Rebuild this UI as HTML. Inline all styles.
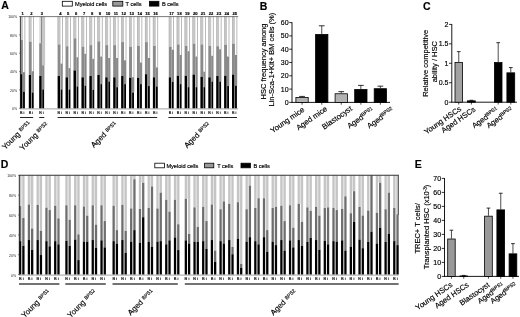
<!DOCTYPE html>
<html><head><meta charset="utf-8"><title>Figure</title>
<style>
html,body{margin:0;padding:0;background:#fff;}
body{width:520px;height:317px;overflow:hidden;font-family:"Liberation Sans",sans-serif;}
svg{display:block;filter:blur(0.35px);font-family:"Liberation Sans",sans-serif;}
text{stroke:#000;stroke-width:0.16px;}
</style></head><body>
<svg width="520" height="317" viewBox="0 0 520 317">
<rect x="0" y="0" width="520" height="317" fill="#fff"/>
<rect x="20.00" y="16.50" width="2.90" height="23.37" fill="#c6c6c6"/>
<rect x="20.00" y="16.50" width="0.50" height="23.37" fill="#b0b0b0"/>
<rect x="20.00" y="39.87" width="2.90" height="34.32" fill="#8a8a8a"/>
<rect x="20.00" y="74.18" width="2.50" height="34.32" fill="#000"/>
<rect x="24.60" y="16.50" width="0.60" height="55.66" fill="#8c8c8c"/>
<rect x="22.90" y="72.16" width="2.30" height="19.50" fill="#8a8a8a"/>
<rect x="23.05" y="91.66" width="1.85" height="16.84" fill="#000"/>
<text x="22.70" y="15.00" font-size="4.1" text-anchor="middle" font-weight="bold" fill="#000">1</text>
<text x="20.00" y="114.20" font-size="3.8" text-anchor="start" font-weight="normal" fill="#000">B</text>
<text x="23.50" y="114.20" font-size="3.8" text-anchor="start" font-weight="normal" fill="#000">i</text>
<rect x="28.80" y="16.50" width="2.90" height="25.12" fill="#c6c6c6"/>
<rect x="28.80" y="16.50" width="0.50" height="25.12" fill="#b0b0b0"/>
<rect x="28.80" y="41.62" width="2.90" height="33.40" fill="#8a8a8a"/>
<rect x="28.80" y="75.01" width="2.50" height="33.49" fill="#000"/>
<rect x="33.40" y="16.50" width="0.60" height="54.74" fill="#8c8c8c"/>
<rect x="31.70" y="71.24" width="2.30" height="21.25" fill="#8a8a8a"/>
<rect x="31.85" y="92.49" width="1.85" height="16.01" fill="#000"/>
<text x="31.50" y="15.00" font-size="4.1" text-anchor="middle" font-weight="bold" fill="#000">2</text>
<text x="28.80" y="114.20" font-size="3.8" text-anchor="start" font-weight="normal" fill="#000">B</text>
<text x="32.30" y="114.20" font-size="3.8" text-anchor="start" font-weight="normal" fill="#000">i</text>
<rect x="39.20" y="16.50" width="1.50" height="26.68" fill="#dcdcdc"/>
<rect x="40.90" y="16.50" width="0.90" height="26.68" fill="#666"/>
<rect x="39.20" y="43.18" width="2.90" height="32.84" fill="#8a8a8a"/>
<rect x="39.20" y="76.02" width="2.50" height="32.48" fill="#000"/>
<rect x="41.90" y="16.50" width="3.20" height="48.76" fill="#c6c6c6"/>
<rect x="42.10" y="65.26" width="2.30" height="24.20" fill="#8a8a8a"/>
<rect x="42.25" y="89.46" width="1.85" height="19.04" fill="#000"/>
<text x="41.90" y="15.00" font-size="4.1" text-anchor="middle" font-weight="bold" fill="#000">3</text>
<text x="39.20" y="114.20" font-size="3.8" text-anchor="start" font-weight="normal" fill="#000">B</text>
<text x="42.70" y="114.20" font-size="3.8" text-anchor="start" font-weight="normal" fill="#000">i</text>
<rect x="57.60" y="16.50" width="2.90" height="27.88" fill="#c6c6c6"/>
<rect x="57.60" y="16.50" width="0.50" height="27.88" fill="#b0b0b0"/>
<rect x="57.60" y="44.38" width="2.90" height="31.65" fill="#8a8a8a"/>
<rect x="57.60" y="76.02" width="2.50" height="32.48" fill="#000"/>
<rect x="62.20" y="16.50" width="0.60" height="47.10" fill="#8c8c8c"/>
<rect x="60.50" y="63.60" width="2.30" height="25.85" fill="#8a8a8a"/>
<rect x="60.65" y="89.46" width="1.85" height="19.04" fill="#000"/>
<text x="60.30" y="15.00" font-size="4.1" text-anchor="middle" font-weight="bold" fill="#000">4</text>
<text x="57.60" y="114.20" font-size="3.8" text-anchor="start" font-weight="normal" fill="#000">B</text>
<text x="61.10" y="114.20" font-size="3.8" text-anchor="start" font-weight="normal" fill="#000">i</text>
<rect x="65.54" y="16.50" width="2.90" height="29.72" fill="#c6c6c6"/>
<rect x="65.54" y="16.50" width="0.50" height="29.72" fill="#b0b0b0"/>
<rect x="65.54" y="46.22" width="2.90" height="31.10" fill="#8a8a8a"/>
<rect x="65.54" y="77.31" width="2.50" height="31.19" fill="#000"/>
<rect x="70.14" y="16.50" width="0.60" height="51.61" fill="#8c8c8c"/>
<rect x="68.44" y="68.11" width="2.30" height="21.34" fill="#8a8a8a"/>
<rect x="68.59" y="89.46" width="1.85" height="19.04" fill="#000"/>
<text x="68.24" y="15.00" font-size="4.1" text-anchor="middle" font-weight="bold" fill="#000">5</text>
<text x="65.54" y="114.20" font-size="3.8" text-anchor="start" font-weight="normal" fill="#000">B</text>
<text x="69.04" y="114.20" font-size="3.8" text-anchor="start" font-weight="normal" fill="#000">i</text>
<rect x="73.48" y="16.50" width="2.90" height="21.80" fill="#c6c6c6"/>
<rect x="73.48" y="16.50" width="0.50" height="21.80" fill="#b0b0b0"/>
<rect x="73.48" y="38.30" width="2.90" height="32.11" fill="#8a8a8a"/>
<rect x="73.48" y="70.41" width="2.50" height="38.09" fill="#000"/>
<rect x="78.08" y="16.50" width="0.60" height="40.76" fill="#8c8c8c"/>
<rect x="76.38" y="57.26" width="2.30" height="29.16" fill="#8a8a8a"/>
<rect x="76.53" y="86.42" width="1.85" height="22.08" fill="#000"/>
<text x="76.18" y="15.00" font-size="4.1" text-anchor="middle" font-weight="bold" fill="#000">6</text>
<text x="73.48" y="114.20" font-size="3.8" text-anchor="start" font-weight="normal" fill="#000">B</text>
<text x="76.98" y="114.20" font-size="3.8" text-anchor="start" font-weight="normal" fill="#000">i</text>
<rect x="81.42" y="16.50" width="2.90" height="30.18" fill="#c6c6c6"/>
<rect x="81.42" y="16.50" width="0.50" height="30.18" fill="#b0b0b0"/>
<rect x="81.42" y="46.68" width="2.90" height="30.64" fill="#8a8a8a"/>
<rect x="81.42" y="77.31" width="2.50" height="31.19" fill="#000"/>
<rect x="86.02" y="16.50" width="0.60" height="37.26" fill="#8c8c8c"/>
<rect x="84.32" y="53.76" width="2.30" height="31.92" fill="#8a8a8a"/>
<rect x="84.47" y="85.68" width="1.85" height="22.82" fill="#000"/>
<text x="84.12" y="15.00" font-size="4.1" text-anchor="middle" font-weight="bold" fill="#000">7</text>
<text x="81.42" y="114.20" font-size="3.8" text-anchor="start" font-weight="normal" fill="#000">B</text>
<text x="84.92" y="114.20" font-size="3.8" text-anchor="start" font-weight="normal" fill="#000">i</text>
<rect x="89.36" y="16.50" width="2.90" height="28.61" fill="#c6c6c6"/>
<rect x="89.36" y="16.50" width="0.50" height="28.61" fill="#b0b0b0"/>
<rect x="89.36" y="45.11" width="2.90" height="30.91" fill="#8a8a8a"/>
<rect x="89.36" y="76.02" width="2.50" height="32.48" fill="#000"/>
<rect x="93.96" y="16.50" width="0.60" height="42.32" fill="#8c8c8c"/>
<rect x="92.26" y="58.82" width="2.30" height="30.91" fill="#8a8a8a"/>
<rect x="92.41" y="89.73" width="1.85" height="18.77" fill="#000"/>
<text x="92.06" y="15.00" font-size="4.1" text-anchor="middle" font-weight="bold" fill="#000">8</text>
<text x="89.36" y="114.20" font-size="3.8" text-anchor="start" font-weight="normal" fill="#000">B</text>
<text x="92.86" y="114.20" font-size="3.8" text-anchor="start" font-weight="normal" fill="#000">i</text>
<rect x="97.30" y="16.50" width="2.90" height="24.84" fill="#c6c6c6"/>
<rect x="97.30" y="16.50" width="0.50" height="24.84" fill="#b0b0b0"/>
<rect x="97.30" y="41.34" width="2.90" height="33.67" fill="#8a8a8a"/>
<rect x="97.30" y="75.01" width="2.50" height="33.49" fill="#000"/>
<rect x="101.90" y="16.50" width="0.60" height="40.02" fill="#8c8c8c"/>
<rect x="100.20" y="56.52" width="2.30" height="27.60" fill="#8a8a8a"/>
<rect x="100.35" y="84.12" width="1.85" height="24.38" fill="#000"/>
<text x="100.00" y="15.00" font-size="4.1" text-anchor="middle" font-weight="bold" fill="#000">9</text>
<text x="97.30" y="114.20" font-size="3.8" text-anchor="start" font-weight="normal" fill="#000">B</text>
<text x="100.80" y="114.20" font-size="3.8" text-anchor="start" font-weight="normal" fill="#000">i</text>
<rect x="105.24" y="16.50" width="2.90" height="28.61" fill="#c6c6c6"/>
<rect x="105.24" y="16.50" width="0.50" height="28.61" fill="#b0b0b0"/>
<rect x="105.24" y="45.11" width="2.90" height="32.20" fill="#8a8a8a"/>
<rect x="105.24" y="77.31" width="2.50" height="31.19" fill="#000"/>
<rect x="109.84" y="16.50" width="0.60" height="41.49" fill="#8c8c8c"/>
<rect x="108.14" y="57.99" width="2.30" height="23.55" fill="#8a8a8a"/>
<rect x="108.29" y="81.54" width="1.85" height="26.96" fill="#000"/>
<text x="107.94" y="15.00" font-size="4.1" text-anchor="middle" font-weight="bold" fill="#000">10</text>
<text x="105.24" y="114.20" font-size="3.8" text-anchor="start" font-weight="normal" fill="#000">B</text>
<text x="108.74" y="114.20" font-size="3.8" text-anchor="start" font-weight="normal" fill="#000">i</text>
<rect x="113.18" y="16.50" width="2.90" height="28.61" fill="#c6c6c6"/>
<rect x="113.18" y="16.50" width="0.50" height="28.61" fill="#b0b0b0"/>
<rect x="113.18" y="45.11" width="2.90" height="32.20" fill="#8a8a8a"/>
<rect x="113.18" y="77.31" width="2.50" height="31.19" fill="#000"/>
<rect x="117.78" y="16.50" width="0.60" height="41.49" fill="#8c8c8c"/>
<rect x="116.08" y="57.99" width="2.30" height="29.16" fill="#8a8a8a"/>
<rect x="116.23" y="87.16" width="1.85" height="21.34" fill="#000"/>
<text x="115.88" y="15.00" font-size="4.1" text-anchor="middle" font-weight="bold" fill="#000">11</text>
<text x="113.18" y="114.20" font-size="3.8" text-anchor="start" font-weight="normal" fill="#000">B</text>
<text x="116.68" y="114.20" font-size="3.8" text-anchor="start" font-weight="normal" fill="#000">i</text>
<rect x="121.12" y="16.50" width="2.90" height="25.58" fill="#c6c6c6"/>
<rect x="121.12" y="16.50" width="0.50" height="25.58" fill="#b0b0b0"/>
<rect x="121.12" y="42.08" width="2.90" height="33.95" fill="#8a8a8a"/>
<rect x="121.12" y="76.02" width="2.50" height="32.48" fill="#000"/>
<rect x="125.72" y="16.50" width="0.60" height="43.79" fill="#8c8c8c"/>
<rect x="124.02" y="60.29" width="2.30" height="23.83" fill="#8a8a8a"/>
<rect x="124.17" y="84.12" width="1.85" height="24.38" fill="#000"/>
<text x="123.82" y="15.00" font-size="4.1" text-anchor="middle" font-weight="bold" fill="#000">12</text>
<text x="121.12" y="114.20" font-size="3.8" text-anchor="start" font-weight="normal" fill="#000">B</text>
<text x="124.62" y="114.20" font-size="3.8" text-anchor="start" font-weight="normal" fill="#000">i</text>
<rect x="129.06" y="16.50" width="2.90" height="30.18" fill="#c6c6c6"/>
<rect x="129.06" y="16.50" width="0.50" height="30.18" fill="#b0b0b0"/>
<rect x="129.06" y="46.68" width="2.90" height="31.10" fill="#8a8a8a"/>
<rect x="129.06" y="77.77" width="2.50" height="30.73" fill="#000"/>
<rect x="133.66" y="16.50" width="0.60" height="60.72" fill="#8c8c8c"/>
<rect x="131.96" y="77.22" width="2.30" height="15.27" fill="#8a8a8a"/>
<rect x="132.11" y="92.49" width="1.85" height="16.01" fill="#000"/>
<text x="131.76" y="15.00" font-size="4.1" text-anchor="middle" font-weight="bold" fill="#000">13</text>
<text x="129.06" y="114.20" font-size="3.8" text-anchor="start" font-weight="normal" fill="#000">B</text>
<text x="132.56" y="114.20" font-size="3.8" text-anchor="start" font-weight="normal" fill="#000">i</text>
<rect x="137.00" y="16.50" width="2.90" height="29.44" fill="#c6c6c6"/>
<rect x="137.00" y="16.50" width="0.50" height="29.44" fill="#b0b0b0"/>
<rect x="137.00" y="45.94" width="2.90" height="31.83" fill="#8a8a8a"/>
<rect x="137.00" y="77.77" width="2.50" height="30.73" fill="#000"/>
<rect x="141.60" y="16.50" width="0.60" height="46.00" fill="#8c8c8c"/>
<rect x="139.90" y="62.50" width="2.30" height="21.62" fill="#8a8a8a"/>
<rect x="140.05" y="84.12" width="1.85" height="24.38" fill="#000"/>
<text x="139.70" y="15.00" font-size="4.1" text-anchor="middle" font-weight="bold" fill="#000">14</text>
<text x="137.00" y="114.20" font-size="3.8" text-anchor="start" font-weight="normal" fill="#000">B</text>
<text x="140.50" y="114.20" font-size="3.8" text-anchor="start" font-weight="normal" fill="#000">i</text>
<rect x="144.94" y="16.50" width="2.90" height="25.58" fill="#c6c6c6"/>
<rect x="144.94" y="16.50" width="0.50" height="25.58" fill="#b0b0b0"/>
<rect x="144.94" y="42.08" width="2.90" height="32.11" fill="#8a8a8a"/>
<rect x="144.94" y="74.18" width="2.50" height="34.32" fill="#000"/>
<rect x="149.54" y="16.50" width="0.60" height="41.49" fill="#8c8c8c"/>
<rect x="147.84" y="57.99" width="2.30" height="28.06" fill="#8a8a8a"/>
<rect x="147.99" y="86.05" width="1.85" height="22.45" fill="#000"/>
<text x="147.64" y="15.00" font-size="4.1" text-anchor="middle" font-weight="bold" fill="#000">15</text>
<text x="144.94" y="114.20" font-size="3.8" text-anchor="start" font-weight="normal" fill="#000">B</text>
<text x="148.44" y="114.20" font-size="3.8" text-anchor="start" font-weight="normal" fill="#000">i</text>
<rect x="152.88" y="16.50" width="2.90" height="29.44" fill="#c6c6c6"/>
<rect x="152.88" y="16.50" width="0.50" height="29.44" fill="#b0b0b0"/>
<rect x="152.88" y="45.94" width="2.90" height="31.37" fill="#8a8a8a"/>
<rect x="152.88" y="77.31" width="2.50" height="31.19" fill="#000"/>
<rect x="157.48" y="16.50" width="0.60" height="50.88" fill="#8c8c8c"/>
<rect x="155.78" y="67.38" width="2.30" height="19.04" fill="#8a8a8a"/>
<rect x="155.93" y="86.42" width="1.85" height="22.08" fill="#000"/>
<text x="155.58" y="15.00" font-size="4.1" text-anchor="middle" font-weight="bold" fill="#000">16</text>
<text x="152.88" y="114.20" font-size="3.8" text-anchor="start" font-weight="normal" fill="#000">B</text>
<text x="156.38" y="114.20" font-size="3.8" text-anchor="start" font-weight="normal" fill="#000">i</text>
<rect x="168.80" y="16.50" width="2.90" height="30.18" fill="#c6c6c6"/>
<rect x="168.80" y="16.50" width="0.50" height="30.18" fill="#b0b0b0"/>
<rect x="168.80" y="46.68" width="2.90" height="30.64" fill="#8a8a8a"/>
<rect x="168.80" y="77.31" width="2.50" height="31.19" fill="#000"/>
<rect x="173.40" y="16.50" width="0.60" height="33.21" fill="#8c8c8c"/>
<rect x="171.70" y="49.71" width="2.30" height="32.11" fill="#8a8a8a"/>
<rect x="171.85" y="81.82" width="1.85" height="26.68" fill="#000"/>
<text x="171.50" y="15.00" font-size="4.1" text-anchor="middle" font-weight="bold" fill="#000">17</text>
<text x="168.80" y="114.20" font-size="3.8" text-anchor="start" font-weight="normal" fill="#000">B</text>
<text x="172.30" y="114.20" font-size="3.8" text-anchor="start" font-weight="normal" fill="#000">i</text>
<rect x="176.70" y="16.50" width="2.90" height="27.88" fill="#c6c6c6"/>
<rect x="176.70" y="16.50" width="0.50" height="27.88" fill="#b0b0b0"/>
<rect x="176.70" y="44.38" width="2.90" height="31.37" fill="#8a8a8a"/>
<rect x="176.70" y="75.75" width="2.50" height="32.75" fill="#000"/>
<rect x="181.30" y="16.50" width="0.60" height="38.46" fill="#8c8c8c"/>
<rect x="179.60" y="54.96" width="2.30" height="29.16" fill="#8a8a8a"/>
<rect x="179.75" y="84.12" width="1.85" height="24.38" fill="#000"/>
<text x="179.40" y="15.00" font-size="4.1" text-anchor="middle" font-weight="bold" fill="#000">18</text>
<text x="176.70" y="114.20" font-size="3.8" text-anchor="start" font-weight="normal" fill="#000">B</text>
<text x="180.20" y="114.20" font-size="3.8" text-anchor="start" font-weight="normal" fill="#000">i</text>
<rect x="184.60" y="16.50" width="2.90" height="29.44" fill="#c6c6c6"/>
<rect x="184.60" y="16.50" width="0.50" height="29.44" fill="#b0b0b0"/>
<rect x="184.60" y="45.94" width="2.90" height="29.81" fill="#8a8a8a"/>
<rect x="184.60" y="75.75" width="2.50" height="32.75" fill="#000"/>
<rect x="189.20" y="16.50" width="0.60" height="34.68" fill="#8c8c8c"/>
<rect x="187.50" y="51.18" width="2.30" height="35.97" fill="#8a8a8a"/>
<rect x="187.65" y="87.16" width="1.85" height="21.34" fill="#000"/>
<text x="187.30" y="15.00" font-size="4.1" text-anchor="middle" font-weight="bold" fill="#000">19</text>
<text x="184.60" y="114.20" font-size="3.8" text-anchor="start" font-weight="normal" fill="#000">B</text>
<text x="188.10" y="114.20" font-size="3.8" text-anchor="start" font-weight="normal" fill="#000">i</text>
<rect x="192.50" y="16.50" width="2.90" height="27.14" fill="#c6c6c6"/>
<rect x="192.50" y="16.50" width="0.50" height="27.14" fill="#b0b0b0"/>
<rect x="192.50" y="43.64" width="2.90" height="30.91" fill="#8a8a8a"/>
<rect x="192.50" y="74.55" width="2.50" height="33.95" fill="#000"/>
<rect x="197.10" y="16.50" width="0.60" height="40.02" fill="#8c8c8c"/>
<rect x="195.40" y="56.52" width="2.30" height="30.64" fill="#8a8a8a"/>
<rect x="195.55" y="87.16" width="1.85" height="21.34" fill="#000"/>
<text x="195.20" y="15.00" font-size="4.1" text-anchor="middle" font-weight="bold" fill="#000">20</text>
<text x="192.50" y="114.20" font-size="3.8" text-anchor="start" font-weight="normal" fill="#000">B</text>
<text x="196.00" y="114.20" font-size="3.8" text-anchor="start" font-weight="normal" fill="#000">i</text>
<rect x="200.40" y="16.50" width="2.90" height="27.88" fill="#c6c6c6"/>
<rect x="200.40" y="16.50" width="0.50" height="27.88" fill="#b0b0b0"/>
<rect x="200.40" y="44.38" width="2.90" height="32.48" fill="#8a8a8a"/>
<rect x="200.40" y="76.85" width="2.50" height="31.65" fill="#000"/>
<rect x="205.00" y="16.50" width="0.60" height="55.20" fill="#8c8c8c"/>
<rect x="203.30" y="71.70" width="2.30" height="15.46" fill="#8a8a8a"/>
<rect x="203.45" y="87.16" width="1.85" height="21.34" fill="#000"/>
<text x="203.10" y="15.00" font-size="4.1" text-anchor="middle" font-weight="bold" fill="#000">21</text>
<text x="200.40" y="114.20" font-size="3.8" text-anchor="start" font-weight="normal" fill="#000">B</text>
<text x="203.90" y="114.20" font-size="3.8" text-anchor="start" font-weight="normal" fill="#000">i</text>
<rect x="208.30" y="16.50" width="2.90" height="29.44" fill="#c6c6c6"/>
<rect x="208.30" y="16.50" width="0.50" height="29.44" fill="#b0b0b0"/>
<rect x="208.30" y="45.94" width="2.90" height="31.37" fill="#8a8a8a"/>
<rect x="208.30" y="77.31" width="2.50" height="31.19" fill="#000"/>
<rect x="212.90" y="16.50" width="0.60" height="39.28" fill="#8c8c8c"/>
<rect x="211.20" y="55.78" width="2.30" height="25.76" fill="#8a8a8a"/>
<rect x="211.35" y="81.54" width="1.85" height="26.96" fill="#000"/>
<text x="211.00" y="15.00" font-size="4.1" text-anchor="middle" font-weight="bold" fill="#000">22</text>
<text x="208.30" y="114.20" font-size="3.8" text-anchor="start" font-weight="normal" fill="#000">B</text>
<text x="211.80" y="114.20" font-size="3.8" text-anchor="start" font-weight="normal" fill="#000">i</text>
<rect x="216.20" y="16.50" width="2.90" height="29.72" fill="#c6c6c6"/>
<rect x="216.20" y="16.50" width="0.50" height="29.72" fill="#b0b0b0"/>
<rect x="216.20" y="46.22" width="2.90" height="29.81" fill="#8a8a8a"/>
<rect x="216.20" y="76.02" width="2.50" height="32.48" fill="#000"/>
<rect x="220.80" y="16.50" width="0.60" height="32.75" fill="#8c8c8c"/>
<rect x="219.10" y="49.25" width="2.30" height="32.29" fill="#8a8a8a"/>
<rect x="219.25" y="81.54" width="1.85" height="26.96" fill="#000"/>
<text x="218.90" y="15.00" font-size="4.1" text-anchor="middle" font-weight="bold" fill="#000">23</text>
<text x="216.20" y="114.20" font-size="3.8" text-anchor="start" font-weight="normal" fill="#000">B</text>
<text x="219.70" y="114.20" font-size="3.8" text-anchor="start" font-weight="normal" fill="#000">i</text>
<rect x="224.10" y="16.50" width="2.90" height="28.34" fill="#c6c6c6"/>
<rect x="224.10" y="16.50" width="0.50" height="28.34" fill="#b0b0b0"/>
<rect x="224.10" y="44.84" width="2.90" height="30.91" fill="#8a8a8a"/>
<rect x="224.10" y="75.75" width="2.50" height="32.75" fill="#000"/>
<rect x="228.70" y="16.50" width="0.60" height="40.02" fill="#8c8c8c"/>
<rect x="227.00" y="56.52" width="2.30" height="29.53" fill="#8a8a8a"/>
<rect x="227.15" y="86.05" width="1.85" height="22.45" fill="#000"/>
<text x="226.80" y="15.00" font-size="4.1" text-anchor="middle" font-weight="bold" fill="#000">24</text>
<text x="224.10" y="114.20" font-size="3.8" text-anchor="start" font-weight="normal" fill="#000">B</text>
<text x="227.60" y="114.20" font-size="3.8" text-anchor="start" font-weight="normal" fill="#000">i</text>
<rect x="232.00" y="16.50" width="2.90" height="27.14" fill="#c6c6c6"/>
<rect x="232.00" y="16.50" width="0.50" height="27.14" fill="#b0b0b0"/>
<rect x="232.00" y="43.64" width="2.90" height="30.91" fill="#8a8a8a"/>
<rect x="232.00" y="74.55" width="2.50" height="33.95" fill="#000"/>
<rect x="236.60" y="16.50" width="0.60" height="38.46" fill="#8c8c8c"/>
<rect x="234.90" y="54.96" width="2.30" height="30.73" fill="#8a8a8a"/>
<rect x="235.05" y="85.68" width="1.85" height="22.82" fill="#000"/>
<text x="234.70" y="15.00" font-size="4.1" text-anchor="middle" font-weight="bold" fill="#000">25</text>
<text x="232.00" y="114.20" font-size="3.8" text-anchor="start" font-weight="normal" fill="#000">B</text>
<text x="235.50" y="114.20" font-size="3.8" text-anchor="start" font-weight="normal" fill="#000">i</text>
<line x1="20.30" y1="16.60" x2="238.20" y2="16.60" stroke="#444" stroke-width="0.7"/>
<line x1="20.40" y1="16.30" x2="20.40" y2="108.60" stroke="#222" stroke-width="0.8"/>
<line x1="20.00" y1="108.90" x2="238.20" y2="108.90" stroke="#999" stroke-width="0.9"/>
<text x="17.10" y="18.20" font-size="3.5" text-anchor="end" font-weight="normal" fill="#222" style="stroke:none">100%</text>
<line x1="19.00" y1="16.60" x2="20.30" y2="16.60" stroke="#222" stroke-width="0.5"/>
<text x="17.10" y="36.50" font-size="3.5" text-anchor="end" font-weight="normal" fill="#222" style="stroke:none">80%</text>
<line x1="19.00" y1="34.90" x2="20.30" y2="34.90" stroke="#222" stroke-width="0.5"/>
<text x="17.10" y="54.80" font-size="3.5" text-anchor="end" font-weight="normal" fill="#222" style="stroke:none">60%</text>
<line x1="19.00" y1="53.20" x2="20.30" y2="53.20" stroke="#222" stroke-width="0.5"/>
<text x="17.10" y="73.20" font-size="3.5" text-anchor="end" font-weight="normal" fill="#222" style="stroke:none">40%</text>
<line x1="19.00" y1="71.60" x2="20.30" y2="71.60" stroke="#222" stroke-width="0.5"/>
<text x="17.10" y="91.50" font-size="3.5" text-anchor="end" font-weight="normal" fill="#222" style="stroke:none">20%</text>
<line x1="19.00" y1="89.90" x2="20.30" y2="89.90" stroke="#222" stroke-width="0.5"/>
<text x="17.10" y="109.90" font-size="3.5" text-anchor="end" font-weight="normal" fill="#222" style="stroke:none">0%</text>
<line x1="19.00" y1="108.30" x2="20.30" y2="108.30" stroke="#222" stroke-width="0.5"/>
<line x1="20.00" y1="117.50" x2="33.20" y2="117.50" stroke="#222" stroke-width="1"/>
<line x1="39.20" y1="117.50" x2="44.30" y2="117.50" stroke="#222" stroke-width="1"/>
<line x1="57.60" y1="117.50" x2="157.20" y2="117.50" stroke="#222" stroke-width="1"/>
<line x1="168.40" y1="117.50" x2="237.00" y2="117.50" stroke="#222" stroke-width="1"/>
<rect x="62.30" y="1.30" width="10.00" height="4.80" fill="#fff" stroke="#000" stroke-width="0.8"/>
<text x="75.00" y="5.60" font-size="5.6" text-anchor="start" font-weight="normal" fill="#000">Myeloid cells</text>
<rect x="112.80" y="1.30" width="10.00" height="4.80" fill="#999" stroke="#000" stroke-width="0.8"/>
<text x="125.60" y="5.60" font-size="5.6" text-anchor="start" font-weight="normal" fill="#000">T cells</text>
<rect x="149.50" y="1.30" width="9.40" height="4.80" fill="#000" stroke="#000" stroke-width="0.8"/>
<text x="162.00" y="5.60" font-size="5.6" text-anchor="start" font-weight="normal" fill="#000">B cells</text>
<text x="31.20" y="124.00" font-size="7.8" text-anchor="end" transform="rotate(-45 31.20 124.00)">Young <tspan font-size="5" dy="-1.8">BPS1</tspan></text>
<text x="48.80" y="125.00" font-size="7.8" text-anchor="end" transform="rotate(-45 48.80 125.00)">Young <tspan font-size="5" dy="-1.8">BPS2</tspan></text>
<text x="117.50" y="124.60" font-size="7.8" text-anchor="end" transform="rotate(-45 117.50 124.60)">Aged <tspan font-size="5" dy="-1.8">BPS1</tspan></text>
<text x="210.60" y="125.00" font-size="7.8" text-anchor="end" transform="rotate(-45 210.60 125.00)">Aged <tspan font-size="5" dy="-1.8">BPS2</tspan></text>
<text x="1.30" y="9.20" font-size="10.5" text-anchor="start" font-weight="bold" fill="#000">A</text>
<text x="259.70" y="10.30" font-size="10.5" text-anchor="start" font-weight="bold" fill="#000">B</text>
<text x="423.00" y="9.80" font-size="10.5" text-anchor="start" font-weight="bold" fill="#000">C</text>
<text x="0.80" y="167.90" font-size="10.5" text-anchor="start" font-weight="bold" fill="#000">D</text>
<text x="414.80" y="167.90" font-size="10.5" text-anchor="start" font-weight="bold" fill="#000">E</text>
<rect x="21.30" y="175.30" width="0.95" height="30.78" fill="#e4e4e4"/>
<rect x="19.00" y="175.30" width="2.30" height="30.78" fill="#c5c5c5"/>
<rect x="19.00" y="206.08" width="2.30" height="35.05" fill="#6e6e6e"/>
<rect x="19.00" y="241.14" width="2.30" height="33.46" fill="#000"/>
<rect x="22.25" y="175.30" width="2.30" height="42.70" fill="#c5c5c5"/>
<rect x="22.25" y="218.00" width="2.30" height="27.90" fill="#6e6e6e"/>
<rect x="22.25" y="245.90" width="2.30" height="28.70" fill="#000"/>
<text x="18.90" y="280.40" font-size="4" text-anchor="start" font-weight="normal" fill="#000">B</text>
<text x="22.70" y="280.40" font-size="4" text-anchor="start" font-weight="normal" fill="#000">i</text>
<rect x="30.07" y="175.30" width="0.95" height="29.19" fill="#e4e4e4"/>
<rect x="27.77" y="175.30" width="2.30" height="29.19" fill="#c5c5c5"/>
<rect x="27.77" y="204.49" width="2.30" height="35.55" fill="#6e6e6e"/>
<rect x="27.77" y="240.04" width="2.30" height="34.56" fill="#000"/>
<rect x="31.02" y="175.30" width="2.30" height="53.22" fill="#c5c5c5"/>
<rect x="31.02" y="228.52" width="2.30" height="21.25" fill="#6e6e6e"/>
<rect x="31.02" y="249.78" width="2.30" height="24.82" fill="#000"/>
<text x="27.67" y="280.40" font-size="4" text-anchor="start" font-weight="normal" fill="#000">B</text>
<text x="31.47" y="280.40" font-size="4" text-anchor="start" font-weight="normal" fill="#000">i</text>
<rect x="38.84" y="175.30" width="0.95" height="29.69" fill="#e4e4e4"/>
<rect x="36.54" y="175.30" width="2.30" height="29.69" fill="#c5c5c5"/>
<rect x="36.54" y="204.99" width="2.30" height="35.05" fill="#6e6e6e"/>
<rect x="36.54" y="240.04" width="2.30" height="34.56" fill="#000"/>
<rect x="39.79" y="175.30" width="2.30" height="55.61" fill="#c5c5c5"/>
<rect x="39.79" y="230.91" width="2.30" height="24.13" fill="#6e6e6e"/>
<rect x="39.79" y="255.04" width="2.30" height="19.56" fill="#000"/>
<text x="36.44" y="280.40" font-size="4" text-anchor="start" font-weight="normal" fill="#000">B</text>
<text x="40.24" y="280.40" font-size="4" text-anchor="start" font-weight="normal" fill="#000">i</text>
<rect x="47.61" y="175.30" width="0.95" height="32.37" fill="#e4e4e4"/>
<rect x="45.31" y="175.30" width="2.30" height="32.37" fill="#c5c5c5"/>
<rect x="45.31" y="207.67" width="2.30" height="33.46" fill="#6e6e6e"/>
<rect x="45.31" y="241.14" width="2.30" height="33.46" fill="#000"/>
<rect x="48.56" y="175.30" width="2.30" height="34.75" fill="#c5c5c5"/>
<rect x="48.56" y="210.06" width="2.30" height="36.24" fill="#6e6e6e"/>
<rect x="48.56" y="246.30" width="2.30" height="28.30" fill="#000"/>
<text x="45.21" y="280.40" font-size="4" text-anchor="start" font-weight="normal" fill="#000">B</text>
<text x="49.01" y="280.40" font-size="4" text-anchor="start" font-weight="normal" fill="#000">i</text>
<rect x="56.38" y="175.30" width="0.95" height="30.49" fill="#e4e4e4"/>
<rect x="54.08" y="175.30" width="2.30" height="30.49" fill="#c5c5c5"/>
<rect x="54.08" y="205.79" width="2.30" height="35.35" fill="#6e6e6e"/>
<rect x="54.08" y="241.14" width="2.30" height="33.46" fill="#000"/>
<rect x="57.33" y="175.30" width="2.30" height="43.10" fill="#c5c5c5"/>
<rect x="57.33" y="218.40" width="2.30" height="25.92" fill="#6e6e6e"/>
<rect x="57.33" y="244.31" width="2.30" height="30.29" fill="#000"/>
<text x="53.98" y="280.40" font-size="4" text-anchor="start" font-weight="normal" fill="#000">B</text>
<text x="57.78" y="280.40" font-size="4" text-anchor="start" font-weight="normal" fill="#000">i</text>
<rect x="67.60" y="175.30" width="0.95" height="29.99" fill="#e4e4e4"/>
<rect x="65.30" y="175.30" width="2.30" height="29.99" fill="#c5c5c5"/>
<rect x="65.30" y="205.29" width="2.30" height="35.55" fill="#6e6e6e"/>
<rect x="65.30" y="240.84" width="2.30" height="33.76" fill="#000"/>
<rect x="68.55" y="175.30" width="2.30" height="44.49" fill="#c5c5c5"/>
<rect x="68.55" y="219.79" width="2.30" height="26.12" fill="#6e6e6e"/>
<rect x="68.55" y="245.90" width="2.30" height="28.70" fill="#000"/>
<text x="65.20" y="280.40" font-size="4" text-anchor="start" font-weight="normal" fill="#000">B</text>
<text x="69.00" y="280.40" font-size="4" text-anchor="start" font-weight="normal" fill="#000">i</text>
<rect x="76.37" y="175.30" width="0.95" height="29.99" fill="#e4e4e4"/>
<rect x="74.07" y="175.30" width="2.30" height="29.99" fill="#c5c5c5"/>
<rect x="74.07" y="205.29" width="2.30" height="34.26" fill="#6e6e6e"/>
<rect x="74.07" y="239.55" width="2.30" height="35.05" fill="#000"/>
<rect x="77.32" y="175.30" width="2.30" height="59.08" fill="#c5c5c5"/>
<rect x="77.32" y="234.38" width="2.30" height="25.72" fill="#6e6e6e"/>
<rect x="77.32" y="260.10" width="2.30" height="14.50" fill="#000"/>
<text x="73.97" y="280.40" font-size="4" text-anchor="start" font-weight="normal" fill="#000">B</text>
<text x="77.77" y="280.40" font-size="4" text-anchor="start" font-weight="normal" fill="#000">i</text>
<rect x="85.14" y="175.30" width="0.95" height="31.28" fill="#e4e4e4"/>
<rect x="82.84" y="175.30" width="2.30" height="31.28" fill="#c5c5c5"/>
<rect x="82.84" y="206.58" width="2.30" height="35.05" fill="#6e6e6e"/>
<rect x="82.84" y="241.63" width="2.30" height="32.97" fill="#000"/>
<rect x="86.09" y="175.30" width="2.30" height="40.32" fill="#c5c5c5"/>
<rect x="86.09" y="215.62" width="2.30" height="26.02" fill="#6e6e6e"/>
<rect x="86.09" y="241.63" width="2.30" height="32.97" fill="#000"/>
<text x="82.74" y="280.40" font-size="4" text-anchor="start" font-weight="normal" fill="#000">B</text>
<text x="86.54" y="280.40" font-size="4" text-anchor="start" font-weight="normal" fill="#000">i</text>
<rect x="93.91" y="175.30" width="0.95" height="29.99" fill="#e4e4e4"/>
<rect x="91.61" y="175.30" width="2.30" height="29.99" fill="#c5c5c5"/>
<rect x="91.61" y="205.29" width="2.30" height="34.75" fill="#6e6e6e"/>
<rect x="91.61" y="240.04" width="2.30" height="34.56" fill="#000"/>
<rect x="94.86" y="175.30" width="2.30" height="49.35" fill="#c5c5c5"/>
<rect x="94.86" y="224.65" width="2.30" height="23.24" fill="#6e6e6e"/>
<rect x="94.86" y="247.89" width="2.30" height="26.71" fill="#000"/>
<text x="91.51" y="280.40" font-size="4" text-anchor="start" font-weight="normal" fill="#000">B</text>
<text x="95.31" y="280.40" font-size="4" text-anchor="start" font-weight="normal" fill="#000">i</text>
<rect x="102.68" y="175.30" width="0.95" height="29.99" fill="#e4e4e4"/>
<rect x="100.38" y="175.30" width="2.30" height="29.99" fill="#c5c5c5"/>
<rect x="100.38" y="205.29" width="2.30" height="35.05" fill="#6e6e6e"/>
<rect x="100.38" y="240.34" width="2.30" height="34.26" fill="#000"/>
<rect x="103.63" y="175.30" width="2.30" height="45.78" fill="#c5c5c5"/>
<rect x="103.63" y="221.08" width="2.30" height="26.31" fill="#6e6e6e"/>
<rect x="103.63" y="247.39" width="2.30" height="27.21" fill="#000"/>
<text x="100.28" y="280.40" font-size="4" text-anchor="start" font-weight="normal" fill="#000">B</text>
<text x="104.08" y="280.40" font-size="4" text-anchor="start" font-weight="normal" fill="#000">i</text>
<rect x="114.80" y="175.30" width="0.95" height="30.49" fill="#e4e4e4"/>
<rect x="112.50" y="175.30" width="2.30" height="30.49" fill="#c5c5c5"/>
<rect x="112.50" y="205.79" width="2.30" height="35.35" fill="#6e6e6e"/>
<rect x="112.50" y="241.14" width="2.30" height="33.46" fill="#000"/>
<rect x="115.75" y="175.30" width="2.30" height="54.81" fill="#c5c5c5"/>
<rect x="115.75" y="230.11" width="2.30" height="13.41" fill="#6e6e6e"/>
<rect x="115.75" y="243.52" width="2.30" height="31.08" fill="#000"/>
<text x="112.40" y="280.40" font-size="4" text-anchor="start" font-weight="normal" fill="#000">B</text>
<text x="116.20" y="280.40" font-size="4" text-anchor="start" font-weight="normal" fill="#000">i</text>
<rect x="123.57" y="175.30" width="0.95" height="29.59" fill="#e4e4e4"/>
<rect x="121.27" y="175.30" width="2.30" height="29.59" fill="#c5c5c5"/>
<rect x="121.27" y="204.89" width="2.30" height="35.15" fill="#6e6e6e"/>
<rect x="121.27" y="240.04" width="2.30" height="34.56" fill="#000"/>
<rect x="124.52" y="175.30" width="2.30" height="55.61" fill="#c5c5c5"/>
<rect x="124.52" y="230.91" width="2.30" height="22.04" fill="#6e6e6e"/>
<rect x="124.52" y="252.95" width="2.30" height="21.65" fill="#000"/>
<text x="121.17" y="280.40" font-size="4" text-anchor="start" font-weight="normal" fill="#000">B</text>
<text x="124.97" y="280.40" font-size="4" text-anchor="start" font-weight="normal" fill="#000">i</text>
<rect x="132.34" y="175.30" width="0.95" height="3.97" fill="#e4e4e4"/>
<rect x="130.04" y="175.30" width="2.30" height="33.17" fill="#c5c5c5"/>
<rect x="130.04" y="208.47" width="2.30" height="33.17" fill="#6e6e6e"/>
<rect x="130.04" y="241.63" width="2.30" height="32.97" fill="#000"/>
<rect x="133.29" y="175.30" width="2.30" height="3.97" fill="#c5c5c5"/>
<rect x="133.29" y="179.27" width="2.30" height="50.84" fill="#6e6e6e"/>
<rect x="133.29" y="230.11" width="2.30" height="44.49" fill="#000"/>
<text x="129.94" y="280.40" font-size="4" text-anchor="start" font-weight="normal" fill="#000">B</text>
<text x="133.74" y="280.40" font-size="4" text-anchor="start" font-weight="normal" fill="#000">i</text>
<rect x="141.11" y="175.30" width="0.95" height="7.45" fill="#e4e4e4"/>
<rect x="138.81" y="175.30" width="2.30" height="33.66" fill="#c5c5c5"/>
<rect x="138.81" y="208.96" width="2.30" height="33.76" fill="#6e6e6e"/>
<rect x="138.81" y="242.72" width="2.30" height="31.88" fill="#000"/>
<rect x="142.06" y="175.30" width="2.30" height="7.45" fill="#c5c5c5"/>
<rect x="142.06" y="182.75" width="2.30" height="34.46" fill="#6e6e6e"/>
<rect x="142.06" y="217.20" width="2.30" height="57.40" fill="#000"/>
<text x="138.71" y="280.40" font-size="4" text-anchor="start" font-weight="normal" fill="#000">B</text>
<text x="142.51" y="280.40" font-size="4" text-anchor="start" font-weight="normal" fill="#000">i</text>
<rect x="149.88" y="175.30" width="0.95" height="11.12" fill="#e4e4e4"/>
<rect x="147.58" y="175.30" width="2.30" height="32.67" fill="#c5c5c5"/>
<rect x="147.58" y="207.97" width="2.30" height="33.66" fill="#6e6e6e"/>
<rect x="147.58" y="241.63" width="2.30" height="32.97" fill="#000"/>
<rect x="150.83" y="175.30" width="2.30" height="11.12" fill="#c5c5c5"/>
<rect x="150.83" y="186.42" width="2.30" height="60.28" fill="#6e6e6e"/>
<rect x="150.83" y="246.70" width="2.30" height="27.90" fill="#000"/>
<text x="147.48" y="280.40" font-size="4" text-anchor="start" font-weight="normal" fill="#000">B</text>
<text x="151.28" y="280.40" font-size="4" text-anchor="start" font-weight="normal" fill="#000">i</text>
<rect x="158.65" y="175.30" width="0.95" height="17.38" fill="#e4e4e4"/>
<rect x="156.35" y="175.30" width="2.30" height="33.17" fill="#c5c5c5"/>
<rect x="156.35" y="208.47" width="2.30" height="33.17" fill="#6e6e6e"/>
<rect x="156.35" y="241.63" width="2.30" height="32.97" fill="#000"/>
<rect x="159.60" y="175.30" width="2.30" height="17.38" fill="#c5c5c5"/>
<rect x="159.60" y="192.68" width="2.30" height="48.46" fill="#6e6e6e"/>
<rect x="159.60" y="241.14" width="2.30" height="33.46" fill="#000"/>
<text x="156.25" y="280.40" font-size="4" text-anchor="start" font-weight="normal" fill="#000">B</text>
<text x="160.05" y="280.40" font-size="4" text-anchor="start" font-weight="normal" fill="#000">i</text>
<rect x="167.42" y="175.30" width="0.95" height="24.53" fill="#e4e4e4"/>
<rect x="165.12" y="175.30" width="2.30" height="24.53" fill="#c5c5c5"/>
<rect x="165.12" y="199.83" width="2.30" height="44.49" fill="#6e6e6e"/>
<rect x="165.12" y="244.31" width="2.30" height="30.29" fill="#000"/>
<rect x="168.37" y="175.30" width="2.30" height="36.34" fill="#c5c5c5"/>
<rect x="168.37" y="211.64" width="2.30" height="28.70" fill="#6e6e6e"/>
<rect x="168.37" y="240.34" width="2.30" height="34.26" fill="#000"/>
<text x="165.02" y="280.40" font-size="4" text-anchor="start" font-weight="normal" fill="#000">B</text>
<text x="168.82" y="280.40" font-size="4" text-anchor="start" font-weight="normal" fill="#000">i</text>
<rect x="176.19" y="175.30" width="0.95" height="24.53" fill="#e4e4e4"/>
<rect x="173.89" y="175.30" width="2.30" height="24.53" fill="#c5c5c5"/>
<rect x="173.89" y="199.83" width="2.30" height="37.63" fill="#6e6e6e"/>
<rect x="173.89" y="237.46" width="2.30" height="37.14" fill="#000"/>
<rect x="177.14" y="175.30" width="2.30" height="48.95" fill="#c5c5c5"/>
<rect x="177.14" y="224.25" width="2.30" height="25.82" fill="#6e6e6e"/>
<rect x="177.14" y="250.07" width="2.30" height="24.53" fill="#000"/>
<text x="173.79" y="280.40" font-size="4" text-anchor="start" font-weight="normal" fill="#000">B</text>
<text x="177.59" y="280.40" font-size="4" text-anchor="start" font-weight="normal" fill="#000">i</text>
<rect x="187.00" y="175.30" width="0.95" height="23.43" fill="#e4e4e4"/>
<rect x="184.70" y="175.30" width="2.30" height="23.43" fill="#c5c5c5"/>
<rect x="184.70" y="198.73" width="2.30" height="41.61" fill="#6e6e6e"/>
<rect x="184.70" y="240.34" width="2.30" height="34.26" fill="#000"/>
<rect x="187.95" y="175.30" width="2.30" height="58.69" fill="#c5c5c5"/>
<rect x="187.95" y="233.99" width="2.30" height="9.53" fill="#6e6e6e"/>
<rect x="187.95" y="243.52" width="2.30" height="31.08" fill="#000"/>
<text x="184.60" y="280.40" font-size="4" text-anchor="start" font-weight="normal" fill="#000">B</text>
<text x="188.40" y="280.40" font-size="4" text-anchor="start" font-weight="normal" fill="#000">i</text>
<rect x="195.69" y="175.30" width="0.95" height="32.07" fill="#e4e4e4"/>
<rect x="193.39" y="175.30" width="2.30" height="32.07" fill="#c5c5c5"/>
<rect x="193.39" y="207.37" width="2.30" height="34.26" fill="#6e6e6e"/>
<rect x="193.39" y="241.63" width="2.30" height="32.97" fill="#000"/>
<rect x="196.64" y="175.30" width="2.30" height="51.64" fill="#c5c5c5"/>
<rect x="196.64" y="226.94" width="2.30" height="14.99" fill="#6e6e6e"/>
<rect x="196.64" y="241.93" width="2.30" height="32.67" fill="#000"/>
<text x="193.29" y="280.40" font-size="4" text-anchor="start" font-weight="normal" fill="#000">B</text>
<text x="197.09" y="280.40" font-size="4" text-anchor="start" font-weight="normal" fill="#000">i</text>
<rect x="204.37" y="175.30" width="0.95" height="31.58" fill="#e4e4e4"/>
<rect x="202.07" y="175.30" width="2.30" height="31.58" fill="#c5c5c5"/>
<rect x="202.07" y="206.88" width="2.30" height="34.26" fill="#6e6e6e"/>
<rect x="202.07" y="241.14" width="2.30" height="33.46" fill="#000"/>
<rect x="205.32" y="175.30" width="2.30" height="45.78" fill="#c5c5c5"/>
<rect x="205.32" y="221.08" width="2.30" height="27.90" fill="#6e6e6e"/>
<rect x="205.32" y="248.98" width="2.30" height="25.62" fill="#000"/>
<text x="201.97" y="280.40" font-size="4" text-anchor="start" font-weight="normal" fill="#000">B</text>
<text x="205.77" y="280.40" font-size="4" text-anchor="start" font-weight="normal" fill="#000">i</text>
<rect x="213.06" y="175.30" width="0.95" height="29.19" fill="#e4e4e4"/>
<rect x="210.76" y="175.30" width="2.30" height="29.19" fill="#c5c5c5"/>
<rect x="210.76" y="204.49" width="2.30" height="35.55" fill="#6e6e6e"/>
<rect x="210.76" y="240.04" width="2.30" height="34.56" fill="#000"/>
<rect x="214.01" y="175.30" width="2.30" height="75.27" fill="#c5c5c5"/>
<rect x="214.01" y="250.57" width="2.30" height="11.12" fill="#6e6e6e"/>
<rect x="214.01" y="261.69" width="2.30" height="12.91" fill="#000"/>
<text x="210.66" y="280.40" font-size="4" text-anchor="start" font-weight="normal" fill="#000">B</text>
<text x="214.46" y="280.40" font-size="4" text-anchor="start" font-weight="normal" fill="#000">i</text>
<rect x="221.74" y="175.30" width="0.95" height="26.12" fill="#e4e4e4"/>
<rect x="219.44" y="175.30" width="2.30" height="33.96" fill="#c5c5c5"/>
<rect x="219.44" y="209.26" width="2.30" height="31.88" fill="#6e6e6e"/>
<rect x="219.44" y="241.14" width="2.30" height="33.46" fill="#000"/>
<rect x="222.69" y="175.30" width="2.30" height="26.12" fill="#c5c5c5"/>
<rect x="222.69" y="201.42" width="2.30" height="42.10" fill="#6e6e6e"/>
<rect x="222.69" y="243.52" width="2.30" height="31.08" fill="#000"/>
<text x="219.34" y="280.40" font-size="4" text-anchor="start" font-weight="normal" fill="#000">B</text>
<text x="223.14" y="280.40" font-size="4" text-anchor="start" font-weight="normal" fill="#000">i</text>
<rect x="230.43" y="175.30" width="0.95" height="28.50" fill="#e4e4e4"/>
<rect x="228.13" y="175.30" width="2.30" height="28.50" fill="#c5c5c5"/>
<rect x="228.13" y="203.80" width="2.30" height="36.24" fill="#6e6e6e"/>
<rect x="228.13" y="240.04" width="2.30" height="34.56" fill="#000"/>
<rect x="231.38" y="175.30" width="2.30" height="71.69" fill="#c5c5c5"/>
<rect x="231.38" y="246.99" width="2.30" height="7.25" fill="#6e6e6e"/>
<rect x="231.38" y="254.24" width="2.30" height="20.36" fill="#000"/>
<text x="228.03" y="280.40" font-size="4" text-anchor="start" font-weight="normal" fill="#000">B</text>
<text x="231.83" y="280.40" font-size="4" text-anchor="start" font-weight="normal" fill="#000">i</text>
<rect x="239.11" y="175.30" width="0.95" height="26.91" fill="#e4e4e4"/>
<rect x="236.81" y="175.30" width="2.30" height="26.91" fill="#c5c5c5"/>
<rect x="236.81" y="202.21" width="2.30" height="36.54" fill="#6e6e6e"/>
<rect x="236.81" y="238.75" width="2.30" height="35.85" fill="#000"/>
<rect x="240.06" y="175.30" width="2.30" height="88.67" fill="#c5c5c5"/>
<rect x="240.06" y="263.97" width="2.30" height="3.97" fill="#6e6e6e"/>
<rect x="240.06" y="267.95" width="2.30" height="6.65" fill="#000"/>
<text x="236.71" y="280.40" font-size="4" text-anchor="start" font-weight="normal" fill="#000">B</text>
<text x="240.51" y="280.40" font-size="4" text-anchor="start" font-weight="normal" fill="#000">i</text>
<rect x="247.80" y="175.30" width="0.95" height="10.33" fill="#e4e4e4"/>
<rect x="245.50" y="175.30" width="2.30" height="33.96" fill="#c5c5c5"/>
<rect x="245.50" y="209.26" width="2.30" height="32.37" fill="#6e6e6e"/>
<rect x="245.50" y="241.63" width="2.30" height="32.97" fill="#000"/>
<rect x="248.75" y="175.30" width="2.30" height="10.33" fill="#c5c5c5"/>
<rect x="248.75" y="185.63" width="2.30" height="51.54" fill="#6e6e6e"/>
<rect x="248.75" y="237.16" width="2.30" height="37.44" fill="#000"/>
<text x="245.40" y="280.40" font-size="4" text-anchor="start" font-weight="normal" fill="#000">B</text>
<text x="249.20" y="280.40" font-size="4" text-anchor="start" font-weight="normal" fill="#000">i</text>
<rect x="256.48" y="175.30" width="0.95" height="22.94" fill="#e4e4e4"/>
<rect x="254.18" y="175.30" width="2.30" height="32.67" fill="#c5c5c5"/>
<rect x="254.18" y="207.97" width="2.30" height="33.17" fill="#6e6e6e"/>
<rect x="254.18" y="241.14" width="2.30" height="33.46" fill="#000"/>
<rect x="257.43" y="175.30" width="2.30" height="22.94" fill="#c5c5c5"/>
<rect x="257.43" y="198.24" width="2.30" height="46.08" fill="#6e6e6e"/>
<rect x="257.43" y="244.31" width="2.30" height="30.29" fill="#000"/>
<text x="254.08" y="280.40" font-size="4" text-anchor="start" font-weight="normal" fill="#000">B</text>
<text x="257.88" y="280.40" font-size="4" text-anchor="start" font-weight="normal" fill="#000">i</text>
<rect x="265.17" y="175.30" width="0.95" height="22.94" fill="#e4e4e4"/>
<rect x="262.87" y="175.30" width="2.30" height="22.94" fill="#c5c5c5"/>
<rect x="262.87" y="198.24" width="2.30" height="38.93" fill="#6e6e6e"/>
<rect x="262.87" y="237.16" width="2.30" height="37.44" fill="#000"/>
<rect x="266.12" y="175.30" width="2.30" height="54.81" fill="#c5c5c5"/>
<rect x="266.12" y="230.11" width="2.30" height="21.55" fill="#6e6e6e"/>
<rect x="266.12" y="251.66" width="2.30" height="22.94" fill="#000"/>
<text x="262.77" y="280.40" font-size="4" text-anchor="start" font-weight="normal" fill="#000">B</text>
<text x="266.57" y="280.40" font-size="4" text-anchor="start" font-weight="normal" fill="#000">i</text>
<rect x="273.85" y="175.30" width="0.95" height="31.58" fill="#e4e4e4"/>
<rect x="271.55" y="175.30" width="2.30" height="32.67" fill="#c5c5c5"/>
<rect x="271.55" y="207.97" width="2.30" height="33.66" fill="#6e6e6e"/>
<rect x="271.55" y="241.63" width="2.30" height="32.97" fill="#000"/>
<rect x="274.80" y="175.30" width="2.30" height="31.58" fill="#c5c5c5"/>
<rect x="274.80" y="206.88" width="2.30" height="38.23" fill="#6e6e6e"/>
<rect x="274.80" y="245.11" width="2.30" height="29.49" fill="#000"/>
<text x="271.45" y="280.40" font-size="4" text-anchor="start" font-weight="normal" fill="#000">B</text>
<text x="275.25" y="280.40" font-size="4" text-anchor="start" font-weight="normal" fill="#000">i</text>
<rect x="282.54" y="175.30" width="0.95" height="30.49" fill="#e4e4e4"/>
<rect x="280.24" y="175.30" width="2.30" height="30.49" fill="#c5c5c5"/>
<rect x="280.24" y="205.79" width="2.30" height="34.26" fill="#6e6e6e"/>
<rect x="280.24" y="240.04" width="2.30" height="34.56" fill="#000"/>
<rect x="283.49" y="175.30" width="2.30" height="45.78" fill="#c5c5c5"/>
<rect x="283.49" y="221.08" width="2.30" height="29.49" fill="#6e6e6e"/>
<rect x="283.49" y="250.57" width="2.30" height="24.03" fill="#000"/>
<text x="280.14" y="280.40" font-size="4" text-anchor="start" font-weight="normal" fill="#000">B</text>
<text x="283.94" y="280.40" font-size="4" text-anchor="start" font-weight="normal" fill="#000">i</text>
<rect x="291.22" y="175.30" width="0.95" height="29.99" fill="#e4e4e4"/>
<rect x="288.92" y="175.30" width="2.30" height="29.99" fill="#c5c5c5"/>
<rect x="288.92" y="205.29" width="2.30" height="35.05" fill="#6e6e6e"/>
<rect x="288.92" y="240.34" width="2.30" height="34.26" fill="#000"/>
<rect x="292.17" y="175.30" width="2.30" height="52.43" fill="#c5c5c5"/>
<rect x="292.17" y="227.73" width="2.30" height="19.66" fill="#6e6e6e"/>
<rect x="292.17" y="247.39" width="2.30" height="27.21" fill="#000"/>
<text x="288.82" y="280.40" font-size="4" text-anchor="start" font-weight="normal" fill="#000">B</text>
<text x="292.62" y="280.40" font-size="4" text-anchor="start" font-weight="normal" fill="#000">i</text>
<rect x="299.91" y="175.30" width="0.95" height="28.50" fill="#e4e4e4"/>
<rect x="297.61" y="175.30" width="2.30" height="28.50" fill="#c5c5c5"/>
<rect x="297.61" y="203.80" width="2.30" height="36.24" fill="#6e6e6e"/>
<rect x="297.61" y="240.04" width="2.30" height="34.56" fill="#000"/>
<rect x="300.86" y="175.30" width="2.30" height="46.57" fill="#c5c5c5"/>
<rect x="300.86" y="221.87" width="2.30" height="24.03" fill="#6e6e6e"/>
<rect x="300.86" y="245.90" width="2.30" height="28.70" fill="#000"/>
<text x="297.51" y="280.40" font-size="4" text-anchor="start" font-weight="normal" fill="#000">B</text>
<text x="301.31" y="280.40" font-size="4" text-anchor="start" font-weight="normal" fill="#000">i</text>
<rect x="308.59" y="175.30" width="0.95" height="32.07" fill="#e4e4e4"/>
<rect x="306.29" y="175.30" width="2.30" height="32.07" fill="#c5c5c5"/>
<rect x="306.29" y="207.37" width="2.30" height="34.56" fill="#6e6e6e"/>
<rect x="306.29" y="241.93" width="2.30" height="32.67" fill="#000"/>
<rect x="309.54" y="175.30" width="2.30" height="35.55" fill="#c5c5c5"/>
<rect x="309.54" y="210.85" width="2.30" height="27.11" fill="#6e6e6e"/>
<rect x="309.54" y="237.96" width="2.30" height="36.64" fill="#000"/>
<text x="306.19" y="280.40" font-size="4" text-anchor="start" font-weight="normal" fill="#000">B</text>
<text x="309.99" y="280.40" font-size="4" text-anchor="start" font-weight="normal" fill="#000">i</text>
<rect x="317.28" y="175.30" width="0.95" height="31.58" fill="#e4e4e4"/>
<rect x="314.98" y="175.30" width="2.30" height="31.58" fill="#c5c5c5"/>
<rect x="314.98" y="206.88" width="2.30" height="33.17" fill="#6e6e6e"/>
<rect x="314.98" y="240.04" width="2.30" height="34.56" fill="#000"/>
<rect x="318.23" y="175.30" width="2.30" height="40.32" fill="#c5c5c5"/>
<rect x="318.23" y="215.62" width="2.30" height="34.16" fill="#6e6e6e"/>
<rect x="318.23" y="249.78" width="2.30" height="24.82" fill="#000"/>
<text x="314.88" y="280.40" font-size="4" text-anchor="start" font-weight="normal" fill="#000">B</text>
<text x="318.68" y="280.40" font-size="4" text-anchor="start" font-weight="normal" fill="#000">i</text>
<rect x="325.96" y="175.30" width="0.95" height="32.07" fill="#e4e4e4"/>
<rect x="323.66" y="175.30" width="2.30" height="32.67" fill="#c5c5c5"/>
<rect x="323.66" y="207.97" width="2.30" height="32.87" fill="#6e6e6e"/>
<rect x="323.66" y="240.84" width="2.30" height="33.76" fill="#000"/>
<rect x="326.91" y="175.30" width="2.30" height="32.07" fill="#c5c5c5"/>
<rect x="326.91" y="207.37" width="2.30" height="36.94" fill="#6e6e6e"/>
<rect x="326.91" y="244.31" width="2.30" height="30.29" fill="#000"/>
<text x="323.56" y="280.40" font-size="4" text-anchor="start" font-weight="normal" fill="#000">B</text>
<text x="327.36" y="280.40" font-size="4" text-anchor="start" font-weight="normal" fill="#000">i</text>
<rect x="334.65" y="175.30" width="0.95" height="32.67" fill="#e4e4e4"/>
<rect x="332.35" y="175.30" width="2.30" height="32.67" fill="#c5c5c5"/>
<rect x="332.35" y="207.97" width="2.30" height="33.17" fill="#6e6e6e"/>
<rect x="332.35" y="241.14" width="2.30" height="33.46" fill="#000"/>
<rect x="335.60" y="175.30" width="2.30" height="34.75" fill="#c5c5c5"/>
<rect x="335.60" y="210.06" width="2.30" height="31.58" fill="#6e6e6e"/>
<rect x="335.60" y="241.63" width="2.30" height="32.97" fill="#000"/>
<text x="332.25" y="280.40" font-size="4" text-anchor="start" font-weight="normal" fill="#000">B</text>
<text x="336.05" y="280.40" font-size="4" text-anchor="start" font-weight="normal" fill="#000">i</text>
<rect x="343.33" y="175.30" width="0.95" height="21.05" fill="#e4e4e4"/>
<rect x="341.03" y="175.30" width="2.30" height="33.66" fill="#c5c5c5"/>
<rect x="341.03" y="208.96" width="2.30" height="31.38" fill="#6e6e6e"/>
<rect x="341.03" y="240.34" width="2.30" height="34.26" fill="#000"/>
<rect x="344.28" y="175.30" width="2.30" height="21.05" fill="#c5c5c5"/>
<rect x="344.28" y="196.35" width="2.30" height="54.22" fill="#6e6e6e"/>
<rect x="344.28" y="250.57" width="2.30" height="24.03" fill="#000"/>
<text x="340.93" y="280.40" font-size="4" text-anchor="start" font-weight="normal" fill="#000">B</text>
<text x="344.73" y="280.40" font-size="4" text-anchor="start" font-weight="normal" fill="#000">i</text>
<rect x="352.02" y="175.30" width="0.95" height="15.89" fill="#e4e4e4"/>
<rect x="349.72" y="175.30" width="2.30" height="37.93" fill="#c5c5c5"/>
<rect x="349.72" y="213.23" width="2.30" height="33.46" fill="#6e6e6e"/>
<rect x="349.72" y="246.70" width="2.30" height="27.90" fill="#000"/>
<rect x="352.97" y="175.30" width="2.30" height="15.89" fill="#c5c5c5"/>
<rect x="352.97" y="191.19" width="2.30" height="30.78" fill="#6e6e6e"/>
<rect x="352.97" y="221.97" width="2.30" height="52.63" fill="#000"/>
<text x="349.62" y="280.40" font-size="4" text-anchor="start" font-weight="normal" fill="#000">B</text>
<text x="353.42" y="280.40" font-size="4" text-anchor="start" font-weight="normal" fill="#000">i</text>
<rect x="360.70" y="175.30" width="0.95" height="31.58" fill="#e4e4e4"/>
<rect x="358.40" y="175.30" width="2.30" height="31.58" fill="#c5c5c5"/>
<rect x="358.40" y="206.88" width="2.30" height="32.67" fill="#6e6e6e"/>
<rect x="358.40" y="239.55" width="2.30" height="35.05" fill="#000"/>
<rect x="361.65" y="175.30" width="2.30" height="40.32" fill="#c5c5c5"/>
<rect x="361.65" y="215.62" width="2.30" height="32.57" fill="#6e6e6e"/>
<rect x="361.65" y="248.19" width="2.30" height="26.41" fill="#000"/>
<text x="358.30" y="280.40" font-size="4" text-anchor="start" font-weight="normal" fill="#000">B</text>
<text x="362.10" y="280.40" font-size="4" text-anchor="start" font-weight="normal" fill="#000">i</text>
<rect x="369.39" y="175.30" width="0.95" height="0.00" fill="#e4e4e4"/>
<rect x="367.09" y="175.30" width="2.30" height="35.25" fill="#c5c5c5"/>
<rect x="367.09" y="210.55" width="2.30" height="31.38" fill="#6e6e6e"/>
<rect x="367.09" y="241.93" width="2.30" height="32.67" fill="#000"/>
<rect x="370.34" y="175.30" width="2.30" height="0.00" fill="#c5c5c5"/>
<rect x="370.34" y="175.30" width="2.30" height="56.40" fill="#6e6e6e"/>
<rect x="370.34" y="231.70" width="2.30" height="42.90" fill="#000"/>
<text x="366.99" y="280.40" font-size="4" text-anchor="start" font-weight="normal" fill="#000">B</text>
<text x="370.79" y="280.40" font-size="4" text-anchor="start" font-weight="normal" fill="#000">i</text>
<rect x="378.07" y="175.30" width="0.95" height="7.45" fill="#e4e4e4"/>
<rect x="375.77" y="175.30" width="2.30" height="37.44" fill="#c5c5c5"/>
<rect x="375.77" y="212.74" width="2.30" height="30.78" fill="#6e6e6e"/>
<rect x="375.77" y="243.52" width="2.30" height="31.08" fill="#000"/>
<rect x="379.02" y="175.30" width="2.30" height="7.45" fill="#c5c5c5"/>
<rect x="379.02" y="182.75" width="2.30" height="44.98" fill="#6e6e6e"/>
<rect x="379.02" y="227.73" width="2.30" height="46.87" fill="#000"/>
<text x="375.67" y="280.40" font-size="4" text-anchor="start" font-weight="normal" fill="#000">B</text>
<text x="379.47" y="280.40" font-size="4" text-anchor="start" font-weight="normal" fill="#000">i</text>
<rect x="386.76" y="175.30" width="0.95" height="17.38" fill="#e4e4e4"/>
<rect x="384.46" y="175.30" width="2.30" height="33.96" fill="#c5c5c5"/>
<rect x="384.46" y="209.26" width="2.30" height="32.67" fill="#6e6e6e"/>
<rect x="384.46" y="241.93" width="2.30" height="32.67" fill="#000"/>
<rect x="387.71" y="175.30" width="2.30" height="17.38" fill="#c5c5c5"/>
<rect x="387.71" y="192.68" width="2.30" height="41.31" fill="#6e6e6e"/>
<rect x="387.71" y="233.99" width="2.30" height="40.61" fill="#000"/>
<text x="384.36" y="280.40" font-size="4" text-anchor="start" font-weight="normal" fill="#000">B</text>
<text x="388.16" y="280.40" font-size="4" text-anchor="start" font-weight="normal" fill="#000">i</text>
<rect x="395.44" y="175.30" width="0.95" height="32.67" fill="#e4e4e4"/>
<rect x="393.14" y="175.30" width="2.30" height="32.67" fill="#c5c5c5"/>
<rect x="393.14" y="207.97" width="2.30" height="33.17" fill="#6e6e6e"/>
<rect x="393.14" y="241.14" width="2.30" height="33.46" fill="#000"/>
<rect x="396.39" y="175.30" width="2.30" height="39.02" fill="#c5c5c5"/>
<rect x="396.39" y="214.32" width="2.30" height="30.78" fill="#6e6e6e"/>
<rect x="396.39" y="245.11" width="2.30" height="29.49" fill="#000"/>
<text x="393.04" y="280.40" font-size="4" text-anchor="start" font-weight="normal" fill="#000">B</text>
<text x="396.84" y="280.40" font-size="4" text-anchor="start" font-weight="normal" fill="#000">i</text>
<line x1="19.20" y1="175.20" x2="398.90" y2="175.20" stroke="#333" stroke-width="1.1"/>
<line x1="398.40" y1="175.00" x2="398.40" y2="215.00" stroke="#555" stroke-width="1.0"/>
<line x1="19.30" y1="175.00" x2="19.30" y2="275.00" stroke="#222" stroke-width="0.9"/>
<line x1="19.00" y1="275.10" x2="398.70" y2="275.10" stroke="#999" stroke-width="0.9"/>
<text x="16.10" y="177.20" font-size="3.5" text-anchor="end" font-weight="normal" fill="#222" style="stroke:none">100%</text>
<line x1="18.00" y1="175.30" x2="19.20" y2="175.30" stroke="#222" stroke-width="0.5"/>
<text x="16.10" y="197.10" font-size="3.5" text-anchor="end" font-weight="normal" fill="#222" style="stroke:none">80%</text>
<line x1="18.00" y1="195.20" x2="19.20" y2="195.20" stroke="#222" stroke-width="0.5"/>
<text x="16.10" y="216.90" font-size="3.5" text-anchor="end" font-weight="normal" fill="#222" style="stroke:none">60%</text>
<line x1="18.00" y1="215.00" x2="19.20" y2="215.00" stroke="#222" stroke-width="0.5"/>
<text x="16.10" y="236.80" font-size="3.5" text-anchor="end" font-weight="normal" fill="#222" style="stroke:none">40%</text>
<line x1="18.00" y1="234.90" x2="19.20" y2="234.90" stroke="#222" stroke-width="0.5"/>
<text x="16.10" y="256.60" font-size="3.5" text-anchor="end" font-weight="normal" fill="#222" style="stroke:none">20%</text>
<line x1="18.00" y1="254.70" x2="19.20" y2="254.70" stroke="#222" stroke-width="0.5"/>
<text x="16.10" y="276.50" font-size="3.5" text-anchor="end" font-weight="normal" fill="#222" style="stroke:none">0%</text>
<line x1="18.00" y1="274.60" x2="19.20" y2="274.60" stroke="#222" stroke-width="0.5"/>
<line x1="19.00" y1="284.00" x2="59.40" y2="284.00" stroke="#444" stroke-width="1.3"/>
<line x1="65.30" y1="284.00" x2="105.80" y2="284.00" stroke="#444" stroke-width="1.3"/>
<line x1="112.50" y1="284.00" x2="177.80" y2="284.00" stroke="#444" stroke-width="1.3"/>
<line x1="184.80" y1="284.00" x2="398.60" y2="284.00" stroke="#444" stroke-width="1.3"/>
<text x="50.50" y="292.30" font-size="7.8" text-anchor="end" transform="rotate(-45 50.50 292.30)">Young <tspan font-size="5" dy="-1.8">BPS1</tspan></text>
<text x="96.50" y="292.30" font-size="7.8" text-anchor="end" transform="rotate(-45 96.50 292.30)">Young <tspan font-size="5" dy="-1.8">BPS2</tspan></text>
<text x="154.20" y="292.30" font-size="7.8" text-anchor="end" transform="rotate(-45 154.20 292.30)">Aged <tspan font-size="5" dy="-1.8">BPS1</tspan></text>
<text x="297.00" y="292.30" font-size="7.8" text-anchor="end" transform="rotate(-45 297.00 292.30)">Aged <tspan font-size="5" dy="-1.8">BPS2</tspan></text>
<rect x="154.80" y="163.20" width="9.60" height="4.60" fill="#fff" stroke="#000" stroke-width="0.8"/>
<text x="166.40" y="167.60" font-size="5.6" text-anchor="start" font-weight="normal" fill="#000">Myeloid cells</text>
<rect x="204.60" y="163.20" width="9.20" height="4.60" fill="#999" stroke="#000" stroke-width="0.8"/>
<text x="217.20" y="167.60" font-size="5.6" text-anchor="start" font-weight="normal" fill="#000">T cells</text>
<rect x="241.00" y="163.20" width="9.40" height="4.60" fill="#000" stroke="#000" stroke-width="0.8"/>
<text x="253.40" y="167.60" font-size="5.6" text-anchor="start" font-weight="normal" fill="#000">B cells</text>
<line x1="292.00" y1="22.20" x2="292.00" y2="102.80" stroke="#000" stroke-width="0.9"/>
<line x1="291.60" y1="102.40" x2="390.00" y2="102.40" stroke="#000" stroke-width="0.9"/>
<line x1="289.20" y1="102.40" x2="292.00" y2="102.40" stroke="#000" stroke-width="0.8"/>
<text x="288.60" y="104.90" font-size="7" text-anchor="end" font-weight="normal" fill="#000">0</text>
<line x1="289.20" y1="89.10" x2="292.00" y2="89.10" stroke="#000" stroke-width="0.8"/>
<text x="288.60" y="91.60" font-size="7" text-anchor="end" font-weight="normal" fill="#000">10</text>
<line x1="289.20" y1="75.80" x2="292.00" y2="75.80" stroke="#000" stroke-width="0.8"/>
<text x="288.60" y="78.30" font-size="7" text-anchor="end" font-weight="normal" fill="#000">20</text>
<line x1="289.20" y1="62.50" x2="292.00" y2="62.50" stroke="#000" stroke-width="0.8"/>
<text x="288.60" y="65.00" font-size="7" text-anchor="end" font-weight="normal" fill="#000">30</text>
<line x1="289.20" y1="49.20" x2="292.00" y2="49.20" stroke="#000" stroke-width="0.8"/>
<text x="288.60" y="51.70" font-size="7" text-anchor="end" font-weight="normal" fill="#000">40</text>
<line x1="289.20" y1="35.90" x2="292.00" y2="35.90" stroke="#000" stroke-width="0.8"/>
<text x="288.60" y="38.40" font-size="7" text-anchor="end" font-weight="normal" fill="#000">50</text>
<line x1="289.20" y1="22.60" x2="292.00" y2="22.60" stroke="#000" stroke-width="0.8"/>
<text x="288.60" y="25.10" font-size="7" text-anchor="end" font-weight="normal" fill="#000">60</text>
<line x1="302.05" y1="96.42" x2="302.05" y2="97.08" stroke="#000" stroke-width="0.7"/>
<line x1="299.17" y1="96.42" x2="304.93" y2="96.42" stroke="#000" stroke-width="0.8"/>
<rect x="295.90" y="97.48" width="12.30" height="4.92" fill="#b2b2b2" stroke="#000" stroke-width="0.8"/>
<line x1="302.05" y1="102.40" x2="302.05" y2="104.70" stroke="#000" stroke-width="0.7"/>
<line x1="321.75" y1="25.79" x2="321.75" y2="34.04" stroke="#000" stroke-width="0.7"/>
<line x1="318.87" y1="25.79" x2="324.63" y2="25.79" stroke="#000" stroke-width="0.8"/>
<rect x="315.60" y="34.44" width="12.30" height="67.96" fill="#000" stroke="#000" stroke-width="0.8"/>
<line x1="321.75" y1="102.40" x2="321.75" y2="104.70" stroke="#000" stroke-width="0.7"/>
<line x1="341.25" y1="91.63" x2="341.25" y2="93.36" stroke="#000" stroke-width="0.7"/>
<line x1="338.37" y1="91.63" x2="344.13" y2="91.63" stroke="#000" stroke-width="0.8"/>
<rect x="335.10" y="93.76" width="12.30" height="8.64" fill="#b2b2b2" stroke="#000" stroke-width="0.8"/>
<line x1="341.25" y1="102.40" x2="341.25" y2="104.70" stroke="#000" stroke-width="0.7"/>
<line x1="360.85" y1="85.38" x2="360.85" y2="89.10" stroke="#000" stroke-width="0.7"/>
<line x1="357.97" y1="85.38" x2="363.73" y2="85.38" stroke="#000" stroke-width="0.8"/>
<rect x="354.70" y="89.50" width="12.30" height="12.90" fill="#000" stroke="#000" stroke-width="0.8"/>
<line x1="360.85" y1="102.40" x2="360.85" y2="104.70" stroke="#000" stroke-width="0.7"/>
<line x1="380.35" y1="86.17" x2="380.35" y2="88.30" stroke="#000" stroke-width="0.7"/>
<line x1="377.47" y1="86.17" x2="383.23" y2="86.17" stroke="#000" stroke-width="0.8"/>
<rect x="374.20" y="88.70" width="12.30" height="13.70" fill="#000" stroke="#000" stroke-width="0.8"/>
<line x1="380.35" y1="102.40" x2="380.35" y2="104.70" stroke="#000" stroke-width="0.7"/>
<text x="266.00" y="61.50" font-size="7.5" text-anchor="middle" font-weight="normal" fill="#000" transform="rotate(-90 266.00 61.50)">HSC frequency among</text>
<text x="274.20" y="59.60" font-size="7.5" text-anchor="middle" font-weight="normal" fill="#000" transform="rotate(-90 274.20 59.60)">Lin-Sca-1+Kit+ BM cells (%)</text>
<text x="305.00" y="110.80" font-size="7.6" text-anchor="end" font-weight="normal" fill="#000" transform="rotate(-35 305.00 110.80)">Young mice</text>
<text x="327.80" y="110.00" font-size="7.6" text-anchor="end" font-weight="normal" fill="#000" transform="rotate(-35 327.80 110.00)">Aged mice</text>
<text x="352.70" y="109.80" font-size="7.6" text-anchor="end" font-weight="normal" fill="#000" transform="rotate(-35 352.70 109.80)">Blastocyst</text>
<text x="374.50" y="111.30" font-size="7.6" text-anchor="end" transform="rotate(-35 374.50 111.30)">Aged<tspan font-size="5" dy="-2.7">BPS1</tspan></text>
<text x="394.30" y="111.30" font-size="7.6" text-anchor="end" transform="rotate(-35 394.30 111.30)">Aged<tspan font-size="5" dy="-2.7">BPS2</tspan></text>
<line x1="451.80" y1="24.00" x2="451.80" y2="102.60" stroke="#000" stroke-width="0.9"/>
<line x1="451.40" y1="102.20" x2="517.00" y2="102.20" stroke="#000" stroke-width="0.9"/>
<line x1="449.00" y1="102.20" x2="451.80" y2="102.20" stroke="#000" stroke-width="0.8"/>
<text x="448.40" y="104.70" font-size="7" text-anchor="end" font-weight="normal" fill="#000">0</text>
<line x1="449.00" y1="82.75" x2="451.80" y2="82.75" stroke="#000" stroke-width="0.8"/>
<text x="448.40" y="85.25" font-size="7" text-anchor="end" font-weight="normal" fill="#000">0.5</text>
<line x1="449.00" y1="63.30" x2="451.80" y2="63.30" stroke="#000" stroke-width="0.8"/>
<text x="448.40" y="65.80" font-size="7" text-anchor="end" font-weight="normal" fill="#000">1</text>
<line x1="449.00" y1="43.85" x2="451.80" y2="43.85" stroke="#000" stroke-width="0.8"/>
<text x="448.40" y="46.35" font-size="7" text-anchor="end" font-weight="normal" fill="#000">1.5</text>
<line x1="449.00" y1="24.40" x2="451.80" y2="24.40" stroke="#000" stroke-width="0.8"/>
<text x="448.40" y="26.90" font-size="7" text-anchor="end" font-weight="normal" fill="#000">2</text>
<line x1="458.75" y1="51.63" x2="458.75" y2="62.13" stroke="#000" stroke-width="0.7"/>
<line x1="456.92" y1="51.63" x2="460.58" y2="51.63" stroke="#000" stroke-width="0.8"/>
<rect x="455.00" y="62.53" width="7.50" height="39.67" fill="#a2a2a2" stroke="#000" stroke-width="0.8"/>
<line x1="458.75" y1="102.20" x2="458.75" y2="104.50" stroke="#000" stroke-width="0.7"/>
<line x1="471.40" y1="100.26" x2="471.40" y2="100.45" stroke="#000" stroke-width="0.7"/>
<line x1="469.51" y1="100.26" x2="473.29" y2="100.26" stroke="#000" stroke-width="0.8"/>
<rect x="467.50" y="100.85" width="7.80" height="1.35" fill="#000" stroke="#000" stroke-width="0.8"/>
<line x1="471.40" y1="102.20" x2="471.40" y2="104.50" stroke="#000" stroke-width="0.7"/>
<line x1="498.20" y1="42.68" x2="498.20" y2="62.13" stroke="#000" stroke-width="0.7"/>
<line x1="496.35" y1="42.68" x2="500.05" y2="42.68" stroke="#000" stroke-width="0.8"/>
<rect x="494.40" y="62.53" width="7.60" height="39.67" fill="#000" stroke="#000" stroke-width="0.8"/>
<line x1="498.20" y1="102.20" x2="498.20" y2="104.50" stroke="#000" stroke-width="0.7"/>
<line x1="510.80" y1="67.58" x2="510.80" y2="72.44" stroke="#000" stroke-width="0.7"/>
<line x1="508.91" y1="67.58" x2="512.69" y2="67.58" stroke="#000" stroke-width="0.8"/>
<rect x="506.90" y="72.84" width="7.80" height="29.36" fill="#000" stroke="#000" stroke-width="0.8"/>
<line x1="510.80" y1="102.20" x2="510.80" y2="104.50" stroke="#000" stroke-width="0.7"/>
<text x="428.00" y="63.30" font-size="7.5" text-anchor="middle" font-weight="normal" fill="#000" transform="rotate(-90 428.00 63.30)">Relative competitive</text>
<text x="437.30" y="61.70" font-size="7.5" text-anchor="middle" font-weight="normal" fill="#000" transform="rotate(-90 437.30 61.70)">ability / HSC</text>
<text x="461.80" y="110.00" font-size="7.6" text-anchor="end" font-weight="normal" fill="#000" transform="rotate(-35 461.80 110.00)">Young HSCs</text>
<text x="476.10" y="110.50" font-size="7.6" text-anchor="end" font-weight="normal" fill="#000" transform="rotate(-35 476.10 110.50)">Aged HSCs</text>
<text x="499.20" y="111.10" font-size="7.6" text-anchor="end" transform="rotate(-35 499.20 111.10)">Aged<tspan font-size="5" dy="-2.7">BPS1</tspan></text>
<text x="513.70" y="111.10" font-size="7.6" text-anchor="end" transform="rotate(-35 513.70 111.10)">Aged<tspan font-size="5" dy="-2.7">BPS2</tspan></text>
<line x1="444.50" y1="178.00" x2="444.50" y2="276.80" stroke="#000" stroke-width="0.9"/>
<line x1="444.10" y1="276.40" x2="519.00" y2="276.40" stroke="#000" stroke-width="0.9"/>
<line x1="441.70" y1="276.40" x2="444.50" y2="276.40" stroke="#000" stroke-width="0.8"/>
<text x="441.10" y="278.90" font-size="7" text-anchor="end" font-weight="normal" fill="#000">0</text>
<line x1="441.70" y1="262.40" x2="444.50" y2="262.40" stroke="#000" stroke-width="0.8"/>
<text x="441.10" y="264.90" font-size="7" text-anchor="end" font-weight="normal" fill="#000">10</text>
<line x1="441.70" y1="248.40" x2="444.50" y2="248.40" stroke="#000" stroke-width="0.8"/>
<text x="441.10" y="250.90" font-size="7" text-anchor="end" font-weight="normal" fill="#000">20</text>
<line x1="441.70" y1="234.40" x2="444.50" y2="234.40" stroke="#000" stroke-width="0.8"/>
<text x="441.10" y="236.90" font-size="7" text-anchor="end" font-weight="normal" fill="#000">30</text>
<line x1="441.70" y1="220.40" x2="444.50" y2="220.40" stroke="#000" stroke-width="0.8"/>
<text x="441.10" y="222.90" font-size="7" text-anchor="end" font-weight="normal" fill="#000">40</text>
<line x1="441.70" y1="206.40" x2="444.50" y2="206.40" stroke="#000" stroke-width="0.8"/>
<text x="441.10" y="208.90" font-size="7" text-anchor="end" font-weight="normal" fill="#000">50</text>
<line x1="441.70" y1="192.40" x2="444.50" y2="192.40" stroke="#000" stroke-width="0.8"/>
<text x="441.10" y="194.90" font-size="7" text-anchor="end" font-weight="normal" fill="#000">60</text>
<line x1="441.70" y1="178.40" x2="444.50" y2="178.40" stroke="#000" stroke-width="0.8"/>
<text x="441.10" y="180.90" font-size="7" text-anchor="end" font-weight="normal" fill="#000">70</text>
<line x1="451.45" y1="230.20" x2="451.45" y2="238.60" stroke="#000" stroke-width="0.7"/>
<line x1="449.62" y1="230.20" x2="453.28" y2="230.20" stroke="#000" stroke-width="0.8"/>
<rect x="447.70" y="239.00" width="7.50" height="37.40" fill="#999" stroke="#000" stroke-width="0.8"/>
<line x1="451.45" y1="276.40" x2="451.45" y2="278.70" stroke="#000" stroke-width="0.7"/>
<line x1="463.75" y1="275.42" x2="463.75" y2="275.56" stroke="#000" stroke-width="0.7"/>
<line x1="461.92" y1="275.42" x2="465.58" y2="275.42" stroke="#000" stroke-width="0.8"/>
<rect x="460.00" y="275.96" width="7.50" height="0.44" fill="#000" stroke="#000" stroke-width="0.8"/>
<line x1="463.75" y1="276.40" x2="463.75" y2="278.70" stroke="#000" stroke-width="0.7"/>
<line x1="488.45" y1="208.08" x2="488.45" y2="215.78" stroke="#000" stroke-width="0.7"/>
<line x1="486.58" y1="208.08" x2="490.32" y2="208.08" stroke="#000" stroke-width="0.8"/>
<rect x="484.60" y="216.18" width="7.70" height="60.22" fill="#999" stroke="#000" stroke-width="0.8"/>
<line x1="488.45" y1="276.40" x2="488.45" y2="278.70" stroke="#000" stroke-width="0.7"/>
<line x1="500.75" y1="193.24" x2="500.75" y2="209.48" stroke="#000" stroke-width="0.7"/>
<line x1="498.88" y1="193.24" x2="502.62" y2="193.24" stroke="#000" stroke-width="0.8"/>
<rect x="496.90" y="209.88" width="7.70" height="66.52" fill="#000" stroke="#000" stroke-width="0.8"/>
<line x1="500.75" y1="276.40" x2="500.75" y2="278.70" stroke="#000" stroke-width="0.7"/>
<line x1="512.95" y1="243.64" x2="512.95" y2="253.44" stroke="#000" stroke-width="0.7"/>
<line x1="511.08" y1="243.64" x2="514.82" y2="243.64" stroke="#000" stroke-width="0.8"/>
<rect x="509.10" y="253.84" width="7.70" height="22.56" fill="#000" stroke="#000" stroke-width="0.8"/>
<line x1="512.95" y1="276.40" x2="512.95" y2="278.70" stroke="#000" stroke-width="0.7"/>
<text x="420.30" y="228.40" font-size="7.5" text-anchor="middle" font-weight="normal" fill="#000" transform="rotate(-90 420.30 228.40)">TREC+ T cells/</text>
<text x="429.3" y="227" font-size="7.5" text-anchor="middle" transform="rotate(-90 429.3 227)">Transplanted HSC (x10<tspan font-size="4.6" dy="-2.4">-3</tspan><tspan dy="2.4">)</tspan></text>
<text x="453.20" y="285.80" font-size="7.6" text-anchor="end" font-weight="normal" fill="#000" transform="rotate(-35 453.20 285.80)">Young HSCs</text>
<text x="469.40" y="286.00" font-size="7.6" text-anchor="end" font-weight="normal" fill="#000" transform="rotate(-35 469.40 286.00)">Aged HSCs</text>
<text x="490.20" y="286.00" font-size="7.6" text-anchor="end" font-weight="normal" fill="#000" transform="rotate(-35 490.20 286.00)">Blastocyst</text>
<text x="504.80" y="286.50" font-size="7.6" text-anchor="end" transform="rotate(-35 504.80 286.50)">Aged<tspan font-size="5" dy="-2.7">BPS1</tspan></text>
<text x="517.50" y="286.50" font-size="7.6" text-anchor="end" transform="rotate(-35 517.50 286.50)">Aged<tspan font-size="5" dy="-2.7">BPS2</tspan></text>
</svg>
</body></html>
